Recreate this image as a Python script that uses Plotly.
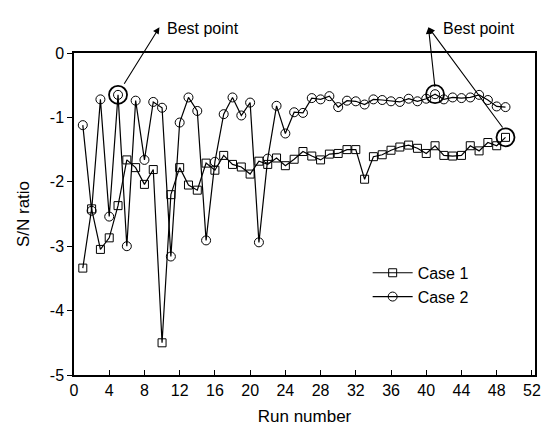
import plotly.graph_objects as go

runs = list(range(1, 50))
case1 = [-3.34, -2.42, -3.05, -2.87, -2.37, -1.66, -1.78, -2.04, -1.81, -4.50,
         -2.20, -1.78, -2.05, -2.13, -1.71, -1.82, -1.59, -1.73, -1.77, -1.88,
         -1.68, -1.73, -1.63, -1.75, -1.65, -1.53, -1.60, -1.66, -1.57, -1.56,
         -1.50, -1.50, -1.96, -1.61, -1.58, -1.51, -1.46, -1.43, -1.48, -1.56,
         -1.44, -1.59, -1.60, -1.59, -1.44, -1.52, -1.39, -1.44, -1.31]
case2 = [-1.12, -2.45, -0.72, -2.54, -0.65, -3.00, -0.74, -1.66, -0.76, -0.85,
         -3.16, -1.08, -0.69, -0.90, -2.91, -1.69, -0.95, -0.69, -0.97, -0.77,
         -2.94, -1.64, -0.82, -1.25, -0.92, -0.93, -0.70, -0.72, -0.67, -0.84,
         -0.74, -0.75, -0.80, -0.72, -0.73, -0.75, -0.76, -0.71, -0.75, -0.71,
         -0.64, -0.72, -0.69, -0.70, -0.69, -0.65, -0.73, -0.83, -0.84]

best_runs = [5, 41, 49]
best_vals = [case2[4], case2[40], case1[48]]

x_ticks = list(range(0, 53, 4))
y_ticks = [0, -1, -2, -3, -4, -5]

FONT = "Liberation Sans, Arial, sans-serif"

fig = go.Figure()
fig.add_trace(go.Scatter(
    x=runs, y=case1, name="Case 1", mode="lines+markers",
    line=dict(color="black", width=1.2),
    marker=dict(symbol="square-open", size=8, color="black", line=dict(width=1)),
    cliponaxis=False,
))
fig.add_trace(go.Scatter(
    x=runs, y=case2, name="Case 2", mode="lines+markers",
    line=dict(color="black", width=1.2),
    marker=dict(symbol="circle-open", size=9, color="black", line=dict(width=1)),
    cliponaxis=False,
))
fig.add_trace(go.Scatter(
    x=best_runs, y=best_vals, mode="markers", showlegend=False,
    marker=dict(symbol="circle-open", size=18, color="black", line=dict(width=1.8)),
    cliponaxis=False,
))

# Annotations: "Best point" labels and arrows
ann = []
ann.append(dict(text="Best point", xref="x", yref="paper", x=14.7, y=1.108,
                showarrow=False, font=dict(family=FONT, size=16, color="black")))
ann.append(dict(text="Best point", xref="x", yref="paper", x=46.0, y=1.108,
                showarrow=False, font=dict(family=FONT, size=16, color="black")))
arrows = [((9.7, 0.40), (5.6, -0.50)),
          ((40.25, 0.40), (41.0, -0.55)),
          ((40.25, 0.40), (48.8, -1.18))]
for (hx, hy), (tx, ty) in arrows:
    ann.append(dict(text="", x=hx, y=hy, xref="x", yref="y",
                    ax=tx, ay=ty, axref="x", ayref="y",
                    showarrow=True, arrowhead=2, arrowsize=1.2, arrowwidth=1.1,
                    arrowcolor="black", standoff=0, startstandoff=0))

fig.update_layout(
    width=552, height=440,
    margin=dict(l=73.5, r=11, t=53, b=65),
    paper_bgcolor="white", plot_bgcolor="white",
    font=dict(family=FONT, size=15, color="black"),
    showlegend=True,
    legend=dict(x=0.637, y=0.37, xanchor="left", yanchor="top",
                bgcolor="rgba(0,0,0,0)", font=dict(family=FONT, size=16),
                itemwidth=40, tracegroupgap=0),
    annotations=ann,
)
fig.update_xaxes(
    range=[0, 52.35], tickvals=x_ticks, ticktext=[str(v) for v in x_ticks],
    ticks="inside", ticklen=5, tickcolor="black", tickwidth=1.2,
    showline=True, linecolor="black", linewidth=1.5, mirror=True,
    showgrid=False, zeroline=False, tickfont=dict(size=16),
    title=dict(text="Run number", font=dict(family=FONT, size=17), standoff=12),
)
fig.update_yaxes(
    range=[-5, 0], tickvals=y_ticks, ticktext=[str(v) for v in y_ticks],
    ticks="outside", ticklen=5, tickcolor="black", tickwidth=1.2,
    showline=True, linecolor="black", linewidth=1.5, mirror=True,
    showgrid=False, zeroline=False, tickfont=dict(size=16),
    title=dict(text="S/N ratio", font=dict(family=FONT, size=17), standoff=16),
)

fig.write_html("out.html")
